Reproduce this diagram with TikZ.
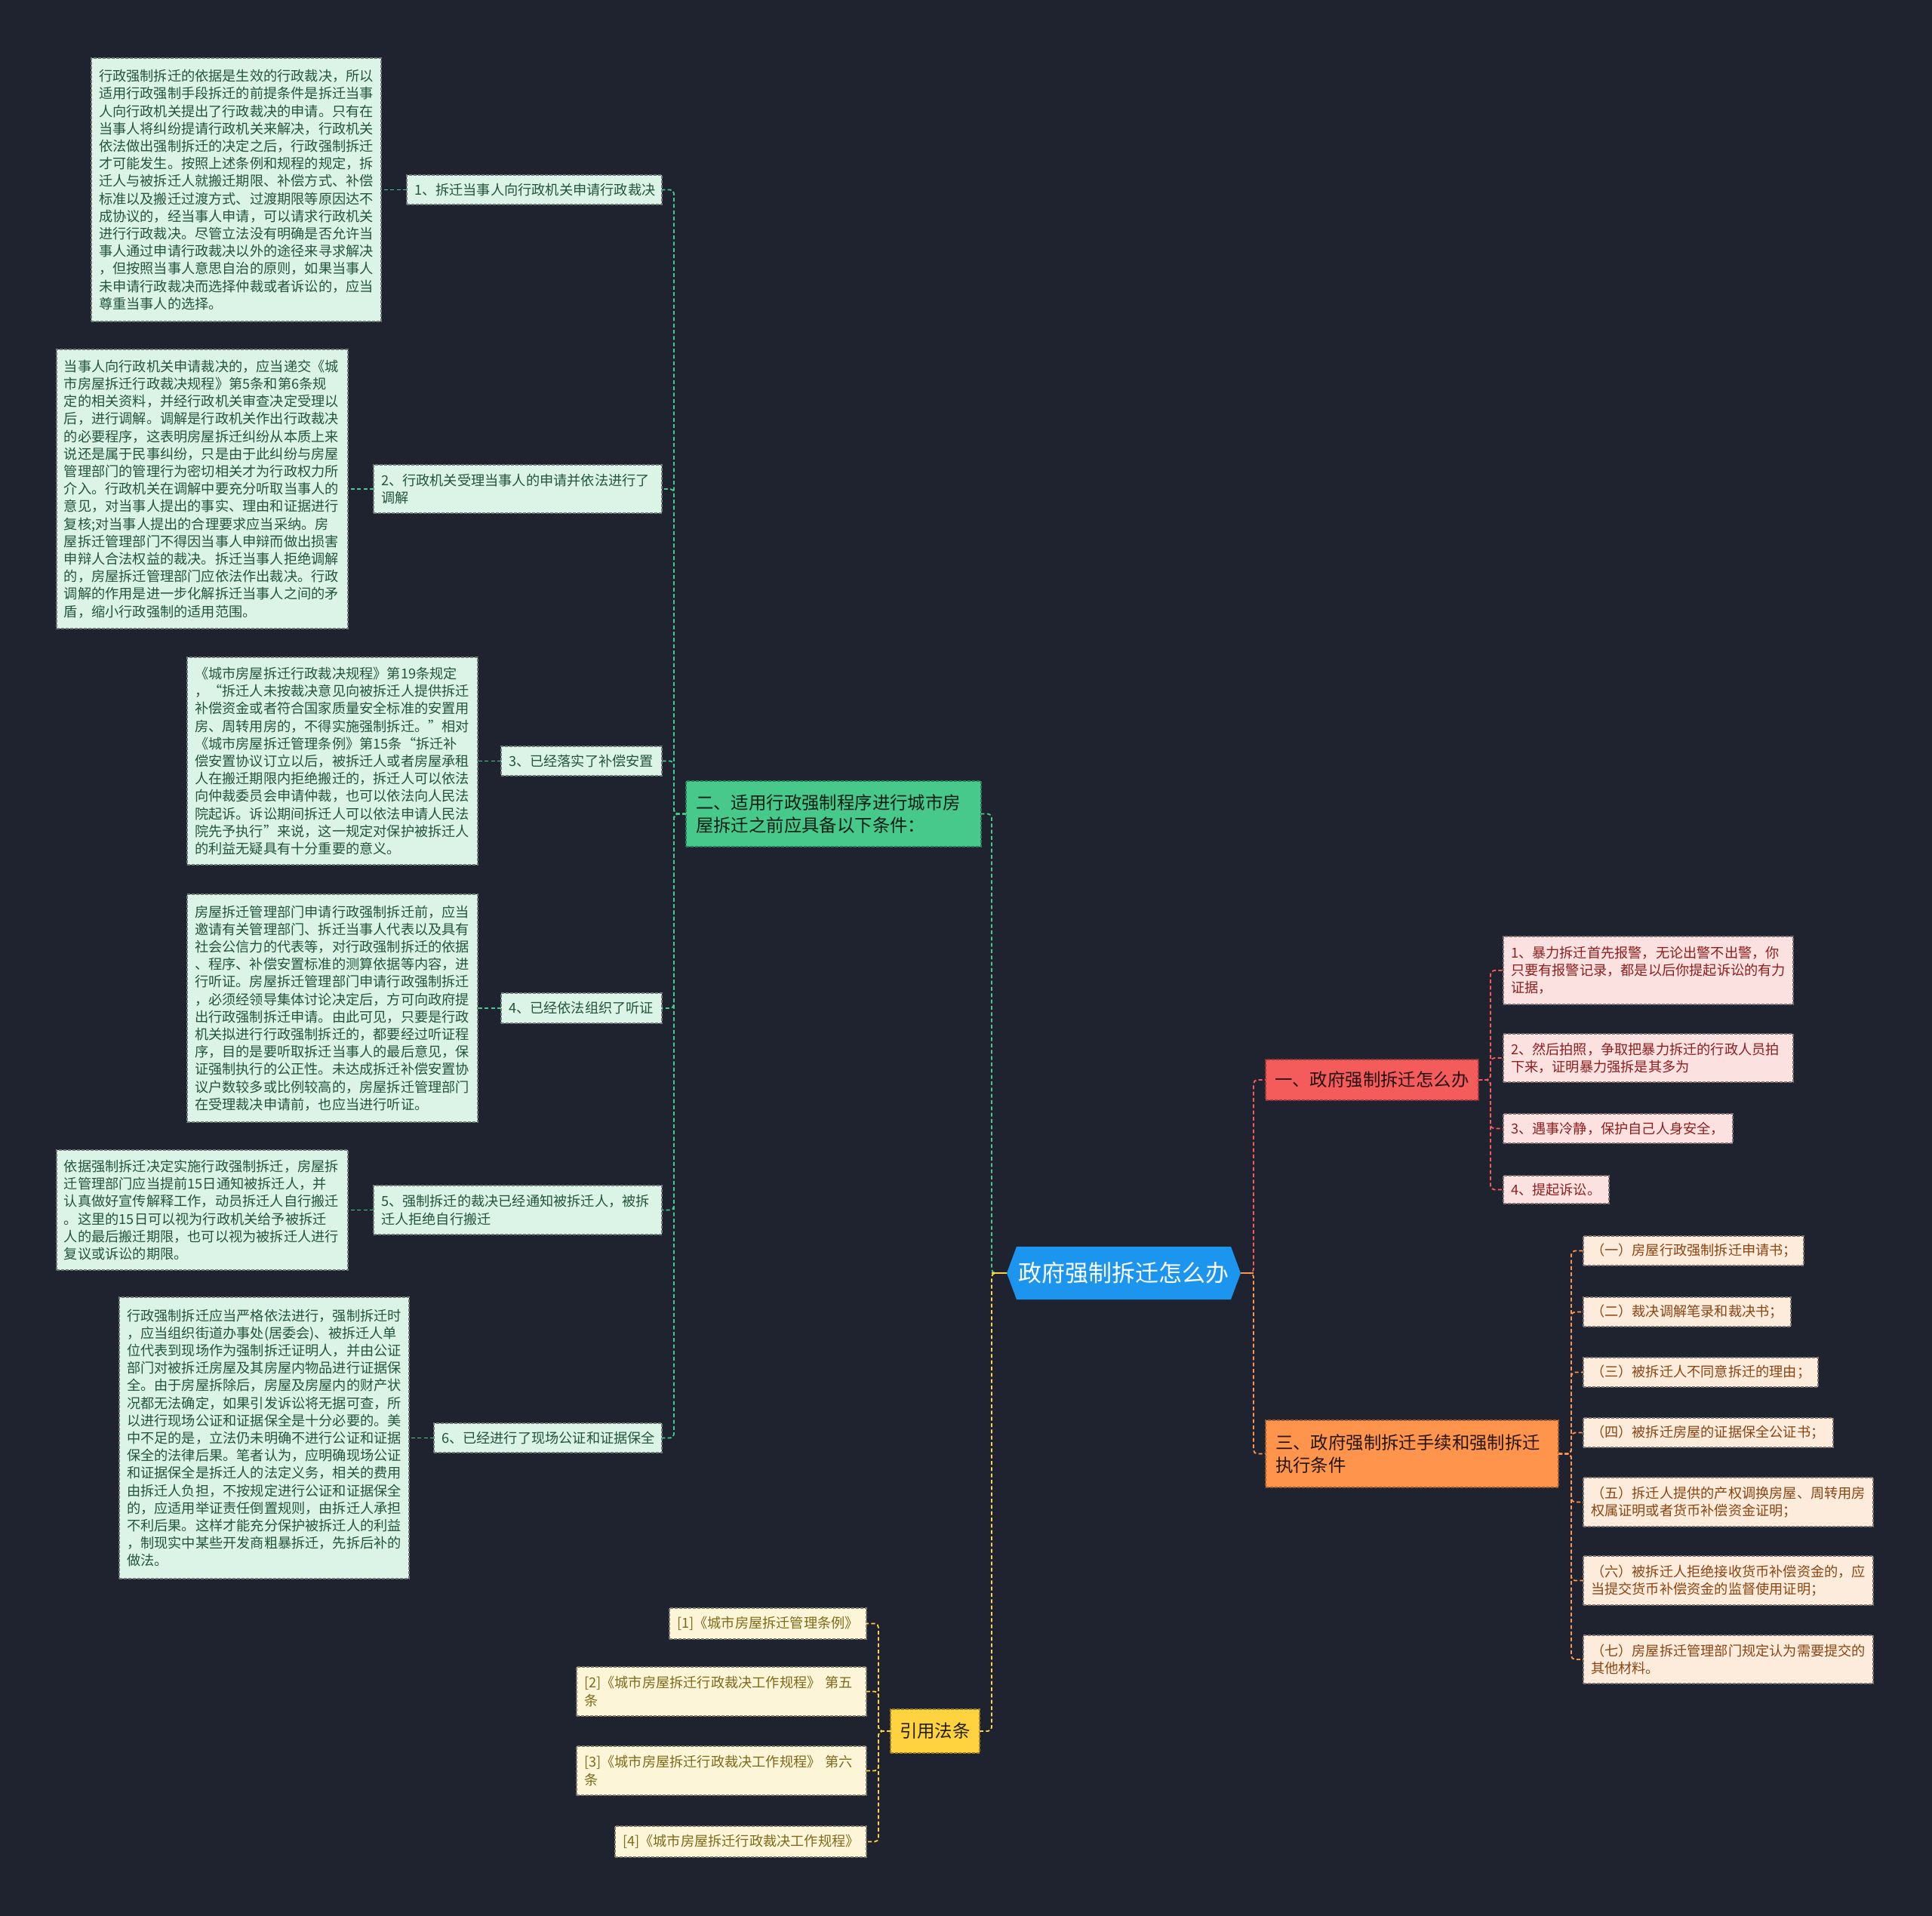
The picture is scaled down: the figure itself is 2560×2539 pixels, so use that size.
\documentclass[tikz,border=0pt]{standalone}
\usepackage{fontspec}
\newfontfamily\cjk{Noto Sans CJK SC}

\definecolor{bg}{HTML}{1F2330}
\definecolor{cblue}{HTML}{1C95EE}
\definecolor{cgreen}{HTML}{47C98B}
\definecolor{cred}{HTML}{F45B5B}
\definecolor{corange}{HTML}{FF944C}
\definecolor{cyellow}{HTML}{FFD33F}
\definecolor{fmint}{HTML}{DCF4E7}
\definecolor{tmint}{HTML}{24553B}
\definecolor{fpink}{HTML}{FCE1E1}
\definecolor{tpink}{HTML}{8E1F1F}
\definecolor{fpeach}{HTML}{FDEBDC}
\definecolor{tpeach}{HTML}{8A4613}
\definecolor{fcream}{HTML}{FDF5D8}
\definecolor{tcream}{HTML}{7F6A1B}

\tikzset{
  bord/.style={line width=0.4pt, dash pattern=on 1.2pt off 0.6pt, outer sep=0pt},
  small/.style={font=\cjk\fontsize{5.46pt}{6.96pt}\selectfont, align=left, inner ysep=0pt},
  big/.style={font=\cjk\fontsize{7.02pt}{9pt}\selectfont, align=left, inner ysep=0pt},
  mintbox/.style={small, bord, fill=fmint, draw=fmint!50!black, text=tmint},
  pinkbox/.style={small, bord, fill=fpink, draw=fpink!50!black, text=tpink},
  peachbox/.style={small, bord, fill=fpeach, draw=fpeach!50!black, text=tpeach},
  creambox/.style={small, bord, fill=fcream, draw=fcream!50!black, text=tcream},
  greenhead/.style={big, bord, fill=cgreen, draw=cgreen!60!black, text=cgreen!15!black},
  redhead/.style={big, bord, fill=cred, draw=cred!60!black, text=cred!15!black},
  orangehead/.style={big, bord, fill=corange, draw=corange!60!black, text=corange!15!black},
  yellowhead/.style={big, bord, fill=cyellow, draw=cyellow!60!black, text=cyellow!15!black},
  conn/.style={line width=0.55pt, dash pattern=on 1.5pt off 1pt, rounded corners=1.5pt},
  gconn/.style={conn, draw=cgreen},
  rconn/.style={conn, draw=cred},
  oconn/.style={conn, draw=corange},
  yconn/.style={conn, draw=cyellow},
  stub/.style={line width=0.6pt},
}

% \putbox[pad]{name}{x1}{y1}{x2}{y2}{style}{text}   (pixel coordinates)
\newcommand\putbox[8][10]{%
  \pgfmathsetmacro\pbw{(#5-#3)*0.3}%
  \pgfmathsetmacro\pbh{(#6-#4)*0.3}%
  \pgfmathsetmacro\pbt{(#5-#3-2*#1)*0.3}%
  \pgfmathsetmacro\pbs{#1*0.3}%
  \node[#7, minimum width=\pbw pt, minimum height=\pbh pt, text width=\pbt pt, inner xsep=\pbs pt] (#2) at ({(#3+#5)/2},{(#4+#6)/2}) {#8};%
}

\begin{document}
\begin{tikzpicture}[x=0.3pt, y=-0.3pt]
\fill[bg] (0,0) rectangle (2560,2539);
\useasboundingbox (0,0) rectangle (2560,2539);

% ---------- central node ----------
\fill[cblue] (1334,1687) -- (1347,1652) -- (1631,1652) -- (1644,1687) -- (1631,1722) -- (1347,1722) -- cycle;
\node[font=\cjk\fontsize{9.3pt}{11pt}\selectfont, text=white, minimum width=93pt, minimum height=21pt, inner sep=0pt, outer sep=0pt] (ctr) at (1489,1687) {政府强制拆迁怎么办};

% ---------- level 1 ----------
\putbox[13]{gr}{909}{1035}{1300}{1122}{greenhead}{二、适用行政强制程序进行城市房\\屋拆迁之前应具备以下条件：}
\putbox[12]{rd}{1677}{1404}{1959}{1458}{redhead}{一、政府强制拆迁怎么办}
\putbox[13]{or}{1677}{1882}{2065}{1971}{orangehead}{三、政府强制拆迁手续和强制拆迁\\执行条件}
\putbox[12]{yl}{1180}{2265}{1298}{2323}{yellowhead}{引用法条}

% ---------- green branch items ----------
\putbox{i1}{539}{232}{877}{271}{mintbox}{1、拆迁当事人向行政机关申请行政裁决}
\putbox{i2}{495}{616}{877}{680}{mintbox}{2、行政机关受理当事人的申请并依法进行了\\调解}
\putbox{i3}{664}{989}{877}{1028}{mintbox}{3、已经落实了补偿安置}
\putbox{i4}{664}{1316}{877}{1356}{mintbox}{4、已经依法组织了听证}
\putbox{i5}{495}{1571}{877}{1636}{mintbox}{5、强制拆迁的裁决已经通知被拆迁人，被拆\\迁人拒绝自行搬迁}
\putbox{i6}{575}{1886}{877}{1925}{mintbox}{6、已经进行了现场公证和证据保全}

% ---------- green branch details ----------
\putbox{b1}{121}{77}{505}{426}{mintbox}{行政强制拆迁的依据是生效的行政裁决，所以\\适用行政强制手段拆迁的前提条件是拆迁当事\\人向行政机关提出了行政裁决的申请。只有在\\当事人将纠纷提请行政机关来解决，行政机关\\依法做出强制拆迁的决定之后，行政强制拆迁\\才可能发生。按照上述条例和规程的规定，拆\\迁人与被拆迁人就搬迁期限、补偿方式、补偿\\标准以及搬迁过渡方式、过渡期限等原因达不\\成协议的，经当事人申请，可以请求行政机关\\进行行政裁决。尽管立法没有明确是否允许当\\事人通过申请行政裁决以外的途径来寻求解决\\，但按照当事人意思自治的原则，如果当事人\\未申请行政裁决而选择仲裁或者诉讼的，应当\\尊重当事人的选择。}
\putbox{b2}{75}{463}{461}{833}{mintbox}{当事人向行政机关申请裁决的，应当递交《城\\市房屋拆迁行政裁决规程》第5条和第6条规\\定的相关资料，并经行政机关审查决定受理以\\后，进行调解。调解是行政机关作出行政裁决\\的必要程序，这表明房屋拆迁纠纷从本质上来\\说还是属于民事纠纷，只是由于此纠纷与房屋\\管理部门的管理行为密切相关才为行政权力所\\介入。行政机关在调解中要充分听取当事人的\\意见，对当事人提出的事实、理由和证据进行\\复核;对当事人提出的合理要求应当采纳。房\\屋拆迁管理部门不得因当事人申辩而做出损害\\申辩人合法权益的裁决。拆迁当事人拒绝调解\\的，房屋拆迁管理部门应依法作出裁决。行政\\调解的作用是进一步化解拆迁当事人之间的矛\\盾，缩小行政强制的适用范围。}
\putbox{b3}{248}{871}{633}{1146}{mintbox}{《城市房屋拆迁行政裁决规程》第19条规定\\，“拆迁人未按裁决意见向被拆迁人提供拆迁\\补偿资金或者符合国家质量安全标准的安置用\\房、周转用房的，不得实施强制拆迁。”相对\\《城市房屋拆迁管理条例》第15条“拆迁补\\偿安置协议订立以后，被拆迁人或者房屋承租\\人在搬迁期限内拒绝搬迁的，拆迁人可以依法\\向仲裁委员会申请仲裁，也可以依法向人民法\\院起诉。诉讼期间拆迁人可以依法申请人民法\\院先予执行”来说，这一规定对保护被拆迁人\\的利益无疑具有十分重要的意义。}
\putbox{b4}{248}{1185}{633}{1487}{mintbox}{房屋拆迁管理部门申请行政强制拆迁前，应当\\邀请有关管理部门、拆迁当事人代表以及具有\\社会公信力的代表等，对行政强制拆迁的依据\\、程序、补偿安置标准的测算依据等内容，进\\行听证。房屋拆迁管理部门申请行政强制拆迁\\，必须经领导集体讨论决定后，方可向政府提\\出行政强制拆迁申请。由此可见，只要是行政\\机关拟进行行政强制拆迁的，都要经过听证程\\序，目的是要听取拆迁当事人的最后意见，保\\证强制执行的公正性。未达成拆迁补偿安置协\\议户数较多或比例较高的，房屋拆迁管理部门\\在受理裁决申请前，也应当进行听证。}
\putbox{b5}{75}{1524}{461}{1683}{mintbox}{依据强制拆迁决定实施行政强制拆迁，房屋拆\\迁管理部门应当提前15日通知被拆迁人，并\\认真做好宣传解释工作，动员拆迁人自行搬迁\\。这里的15日可以视为行政机关给予被拆迁\\人的最后搬迁期限，也可以视为被拆迁人进行\\复议或诉讼的期限。}
\putbox{b6}{158}{1719}{542}{2092}{mintbox}{行政强制拆迁应当严格依法进行，强制拆迁时\\，应当组织街道办事处(居委会)、被拆迁人单\\位代表到现场作为强制拆迁证明人，并由公证\\部门对被拆迁房屋及其房屋内物品进行证据保\\全。由于房屋拆除后，房屋及房屋内的财产状\\况都无法确定，如果引发诉讼将无据可查，所\\以进行现场公证和证据保全是十分必要的。美\\中不足的是，立法仍未明确不进行公证和证据\\保全的法律后果。笔者认为，应明确现场公证\\和证据保全是拆迁人的法定义务，相关的费用\\由拆迁人负担，不按规定进行公证和证据保全\\的，应适用举证责任倒置规则，由拆迁人承担\\不利后果。这样才能充分保护被拆迁人的利益\\，制现实中某些开发商粗暴拆迁，先拆后补的\\做法。}

% ---------- red branch ----------
\putbox{r1}{1992}{1241}{2376}{1331}{pinkbox}{1、暴力拆迁首先报警，无论出警不出警，你\\只要有报警记录，都是以后你提起诉讼的有力\\证据，}
\putbox{r2}{1992}{1370}{2376}{1434}{pinkbox}{2、然后拍照，争取把暴力拆迁的行政人员拍\\下来，证明暴力强拆是其多为}
\putbox{r3}{1992}{1476}{2296}{1515}{pinkbox}{3、遇事冷静，保护自己人身安全，}
\putbox{r4}{1992}{1558}{2132}{1595}{pinkbox}{4、提起诉讼。}

% ---------- orange branch ----------
\putbox{o1}{2098}{1638}{2390}{1677}{peachbox}{（一）房屋行政强制拆迁申请书；}
\putbox{o2}{2098}{1719}{2373}{1758}{peachbox}{（二）裁决调解笔录和裁决书；}
\putbox{o3}{2098}{1799}{2409}{1838}{peachbox}{（三）被拆迁人不同意拆迁的理由；}
\putbox{o4}{2098}{1879}{2429}{1918}{peachbox}{（四）被拆迁房屋的证据保全公证书；}
\putbox{o5}{2098}{1958}{2482}{2023}{peachbox}{（五）拆迁人提供的产权调换房屋、周转用房\\权属证明或者货币补偿资金证明；}
\putbox{o6}{2098}{2062}{2482}{2127}{peachbox}{（六）被拆迁人拒绝接收货币补偿资金的，应\\当提交货币补偿资金的监督使用证明；}
\putbox{o7}{2098}{2167}{2482}{2231}{peachbox}{（七）房屋拆迁管理部门规定认为需要提交的\\其他材料。}

% ---------- yellow branch ----------
\putbox{y1}{887}{2131}{1148}{2172}{creambox}{[1]《城市房屋拆迁管理条例》}
\putbox{y2}{764}{2209}{1148}{2274}{creambox}{[2]《城市房屋拆迁行政裁决工作规程》 第五\\条}
\putbox{y3}{764}{2314}{1148}{2379}{creambox}{[3]《城市房屋拆迁行政裁决工作规程》 第六\\条}
\putbox{y4}{815}{2420}{1148}{2461}{creambox}{[4]《城市房屋拆迁行政裁决工作规程》}

% ---------- connectors ----------
\draw[gconn] (ctr.west) -- ++(-20,0) |- (gr.east);
\draw[yconn] (ctr.west) -- ++(-20,0) |- (yl.east);
\draw[rconn] (ctr.east) -- ++(17,0) |- (rd.west);
\draw[oconn] (ctr.east) -- ++(17,0) |- (or.west);
\draw[stub, cyellow] (ctr.west) -- ++(-20,0);
\draw[stub, corange] (ctr.east) -- ++(17,0);

\foreach \c in {i1,i2,i3,i4,i5,i6}
  \draw[gconn] (gr.west) -- ++(-16,0) |- (\c.east);
\draw[gconn] (i1.west) -- (b1.east);
\draw[gconn] (i2.west) -- (b2.east);
\draw[gconn] (i3.west) -- (b3.east);
\draw[gconn] (i4.west) -- (b4.east);
\draw[gconn] (i5.west) -- (b5.east);
\draw[gconn] (i6.west) -- (b6.east);

\foreach \c in {r1,r2,r3,r4}
  \draw[rconn] (rd.east) -- ++(16,0) |- (\c.west);
\foreach \c in {o1,o2,o3,o4,o5,o6,o7}
  \draw[oconn] (or.east) -- ++(17,0) |- (\c.west);
\foreach \c in {y1,y2,y3,y4}
  \draw[yconn] (yl.west) -- ++(-16,0) |- (\c.east);
\end{tikzpicture}
\end{document}
